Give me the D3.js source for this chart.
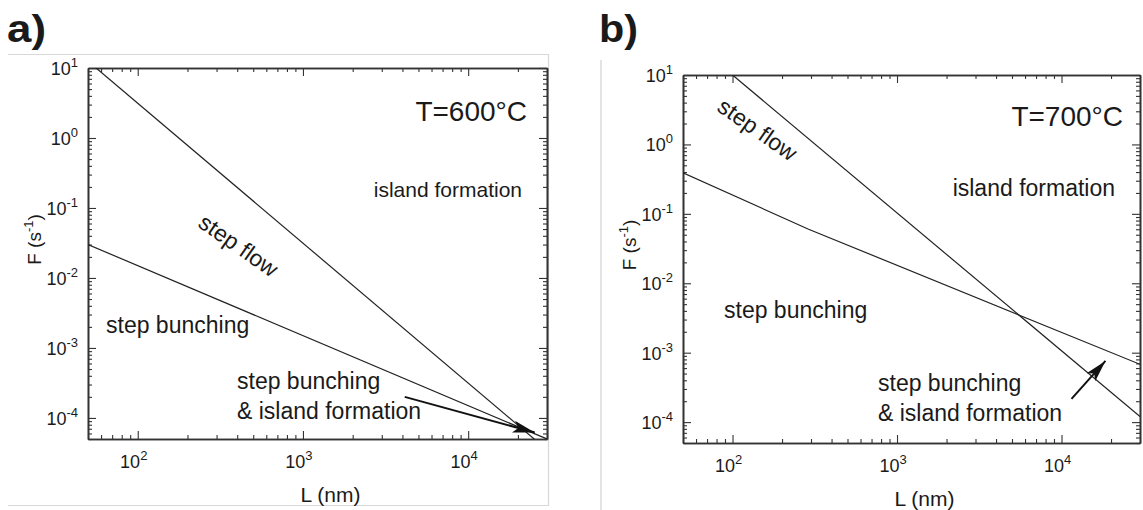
<!DOCTYPE html>
<html><head><meta charset="utf-8">
<script src="https://cdn.jsdelivr.net/npm/d3@7"></script>
<style>
html,body{margin:0;padding:0;background:#fff;}
text{font-family:"Liberation Sans",Arial,sans-serif;fill:#1a1a1a;}
</style></head>
<body>
<svg id="chart" width="1143" height="510"></svg>
<script>
// ---------- data ----------
const xDomain = [50, 30000];
const yDomain = [5e-5, 10];
const xMajorTicks = [100, 1000, 10000];
const yMajorTicks = [1e-4, 1e-3, 1e-2, 1e-1, 1, 10];
const xLabel = "L (nm)";
const yLabel = "F (s";
const panelTitles = ["a)", "b)"];
const temperatures = ["T=600°C", "T=700°C"];

// panel a
const stepFlowA = [[56, 10], [30000, 3.5e-5]];
const bunchingA = [[50, 0.030], [30000, 5.0e-5]];
const arrowA = [[4130, 2.0e-4], [25300, 6.2e-5]];
// panel b
const stepFlowB = [[100, 10], [30000, 1.2e-4]];
const bunchingB = [[50, 0.39], [290, 0.060], [30000, 6.8e-4]];
const arrowB = [[11500, 2.16e-4], [18500, 7.6e-4]];

const regionLabels = ["island formation", "step flow", "step bunching", "step bunching", "& island formation"];

// ---------- helpers ----------
function minorTicks(domain) {
  const out = [];
  for (let e = -6; e <= 6; e++) {
    for (let m = 1; m <= 9; m++) {
      const v = m * Math.pow(10, e);
      if (v >= domain[0] * 0.999 && v <= domain[1] * 1.001) out.push(v);
    }
  }
  return out;
}

const svg = d3.select("#chart");
const defs = svg.append("defs");
defs.append("marker")
  .attr("id", "arrowhead")
  .attr("markerUnits", "userSpaceOnUse")
  .attr("markerWidth", 24).attr("markerHeight", 14)
  .attr("refX", 22).attr("refY", 6)
  .attr("orient", "auto")
  .append("path").attr("d", "M0,0 L22,6 L0,12 L5,6 Z").attr("fill", "#111");

function drawPanel(cfg) {
  const g = svg.append("g");
  const x = d3.scaleLog().domain(xDomain).range([cfg.left, cfg.right]);
  const y = d3.scaleLog().domain(yDomain).range([cfg.bottom, cfg.top]);
  const xMinor = minorTicks(xDomain).filter(v => !xMajorTicks.includes(v));
  const yMinor = minorTicks(yDomain).filter(v => !yMajorTicks.map(d => +d.toPrecision(3)).includes(+v.toPrecision(3)));

  const clipId = "clip" + cfg.id;
  defs.append("clipPath").attr("id", clipId).append("rect")
    .attr("x", cfg.left).attr("y", cfg.top)
    .attr("width", cfg.right - cfg.left).attr("height", cfg.bottom - cfg.top);

  const axisStyle = sel => {
    sel.selectAll("path.domain").attr("stroke", "#333").attr("stroke-width", 1.6);
    sel.selectAll(".tick line").attr("stroke", "#333").attr("stroke-width", 1.1);
    sel.selectAll(".tick text").remove();
  };
  const mk = (axisFn, pos, vals, size, horizontal) => {
    const a = g.append("g").attr("transform", horizontal ? `translate(0,${pos})` : `translate(${pos},0)`)
      .call(axisFn.tickValues(vals).tickSizeInner(-size).tickSizeOuter(0).tickFormat(() => ""));
    axisStyle(a);
  };
  mk(d3.axisBottom(x), cfg.bottom, xMinor, 4, true);
  mk(d3.axisBottom(x), cfg.bottom, xMajorTicks, 8, true);
  mk(d3.axisTop(x), cfg.top, xMinor, 4, true);
  mk(d3.axisTop(x), cfg.top, xMajorTicks, 8, true);
  mk(d3.axisLeft(y), cfg.left, yMinor, 4, false);
  mk(d3.axisLeft(y), cfg.left, yMajorTicks, 8, false);
  mk(d3.axisRight(y), cfg.right, yMinor, 4, false);
  mk(d3.axisRight(y), cfg.right, yMajorTicks, 8, false);

  // tick labels 10^n
  xMajorTicks.forEach(v => {
    const t = g.append("text").attr("x", x(v) - 4).attr("y", cfg.bottom + 29)
      .attr("text-anchor", "middle").attr("font-size", 18).attr("fill", "#333");
    t.append("tspan").text("10");
    t.append("tspan").attr("dy", -8).attr("font-size", 13).text(Math.round(Math.log10(v)));
  });
  yMajorTicks.forEach(v => {
    const t = g.append("text").attr("x", cfg.left - 10).attr("y", y(v) + 7)
      .attr("text-anchor", "end").attr("font-size", 18).attr("fill", "#333");
    t.append("tspan").text("10");
    t.append("tspan").attr("dy", -8).attr("font-size", 13).text(Math.round(Math.log10(v)));
  });

  // axis labels
  g.append("text").attr("x", (cfg.left + cfg.right) / 2 + 13).attr("y", cfg.bottom + 63)
    .attr("text-anchor", "middle").attr("font-size", 21).attr("fill", "#333").text(xLabel);
  const yl = g.append("text")
    .attr("transform", `translate(${cfg.left - 47},${(cfg.top + cfg.bottom) / 2 - 14}) rotate(-90)`)
    .attr("text-anchor", "middle").attr("font-size", 19).attr("fill", "#333");
  yl.append("tspan").text(yLabel);
  yl.append("tspan").attr("dy", -8).attr("font-size", 13).text("-1");
  yl.append("tspan").attr("dy", 8).text(")");

  // lines
  const line = d3.line().x(d => x(d[0])).y(d => y(d[1]));
  const lg = g.append("g").attr("clip-path", `url(#${clipId})`);
  [cfg.stepFlow, cfg.bunching].forEach(d => {
    lg.append("path").datum(d).attr("d", line)
      .attr("fill", "none").attr("stroke", "#222").attr("stroke-width", 1.2);
  });
  // arrow
  g.append("path").datum(cfg.arrow).attr("d", line)
    .attr("fill", "none").attr("stroke", "#111").attr("stroke-width", 2)
    .attr("marker-end", "url(#arrowhead)");

  // texts
  g.append("text").attr("x", cfg.title[0]).attr("y", cfg.title[1])
    .attr("font-family", "DejaVu Sans").attr("font-weight", 900).attr("font-size", 38)
    .attr("textLength", 39).attr("lengthAdjust", "spacingAndGlyphs")
    .attr("fill", "#000").text(cfg.titleText);
  g.append("text").attr("x", cfg.temp[0]).attr("y", cfg.temp[1])
    .attr("text-anchor", "end").attr("font-size", cfg.tempSize).attr("fill", "#1a1a1a").text(cfg.tempText);
  g.append("text").attr("x", cfg.island[0]).attr("y", cfg.island[1])
    .attr("text-anchor", "end").attr("font-size", cfg.islandSize).text(regionLabels[0]);
  g.append("text").attr("transform", `translate(${cfg.flow[0]},${cfg.flow[1]}) rotate(35)`)
    .attr("text-anchor", "middle").attr("font-size", 23).text(regionLabels[1]);
  g.append("text").attr("x", cfg.bunch[0]).attr("y", cfg.bunch[1])
    .attr("font-size", 23).text(regionLabels[2]);
  g.append("text").attr("x", cfg.both[0]).attr("y", cfg.both[1])
    .attr("font-size", 23).text(regionLabels[3]);
  g.append("text").attr("x", cfg.both[0]).attr("y", cfg.both[1] + 30)
    .attr("font-size", 23).text(regionLabels[4]);
}

// frame lines (light gray) from the source figure
svg.append("path").attr("d", "M8,54.5 H548.5 V505.5 H8").attr("fill", "none").attr("stroke", "#d8d8d8").attr("stroke-width", 1.2);
svg.append("path").attr("d", "M601,60 V510").attr("fill", "none").attr("stroke", "#d0d0d0").attr("stroke-width", 1.2);

drawPanel({
  id: "A", left: 88, right: 547, top: 68, bottom: 439,
  stepFlow: stepFlowA, bunching: bunchingA, arrow: arrowA,
  titleText: panelTitles[0], title: [7, 42],
  tempText: temperatures[0], temp: [527, 121], tempSize: 28,
  island: [522, 197], islandSize: 21, flow: [234, 252], bunch: [106, 333], both: [237, 389]
});
drawPanel({
  id: "B", left: 683, right: 1140, top: 75, bottom: 443,
  stepFlow: stepFlowB, bunching: bunchingB, arrow: arrowB,
  titleText: panelTitles[1], title: [599, 42],
  tempText: temperatures[1], temp: [1123, 126], tempSize: 28,
  island: [1115, 196], islandSize: 23, flow: [753, 136], bunch: [724, 318], both: [878, 391]
});
</script>
</body></html>
